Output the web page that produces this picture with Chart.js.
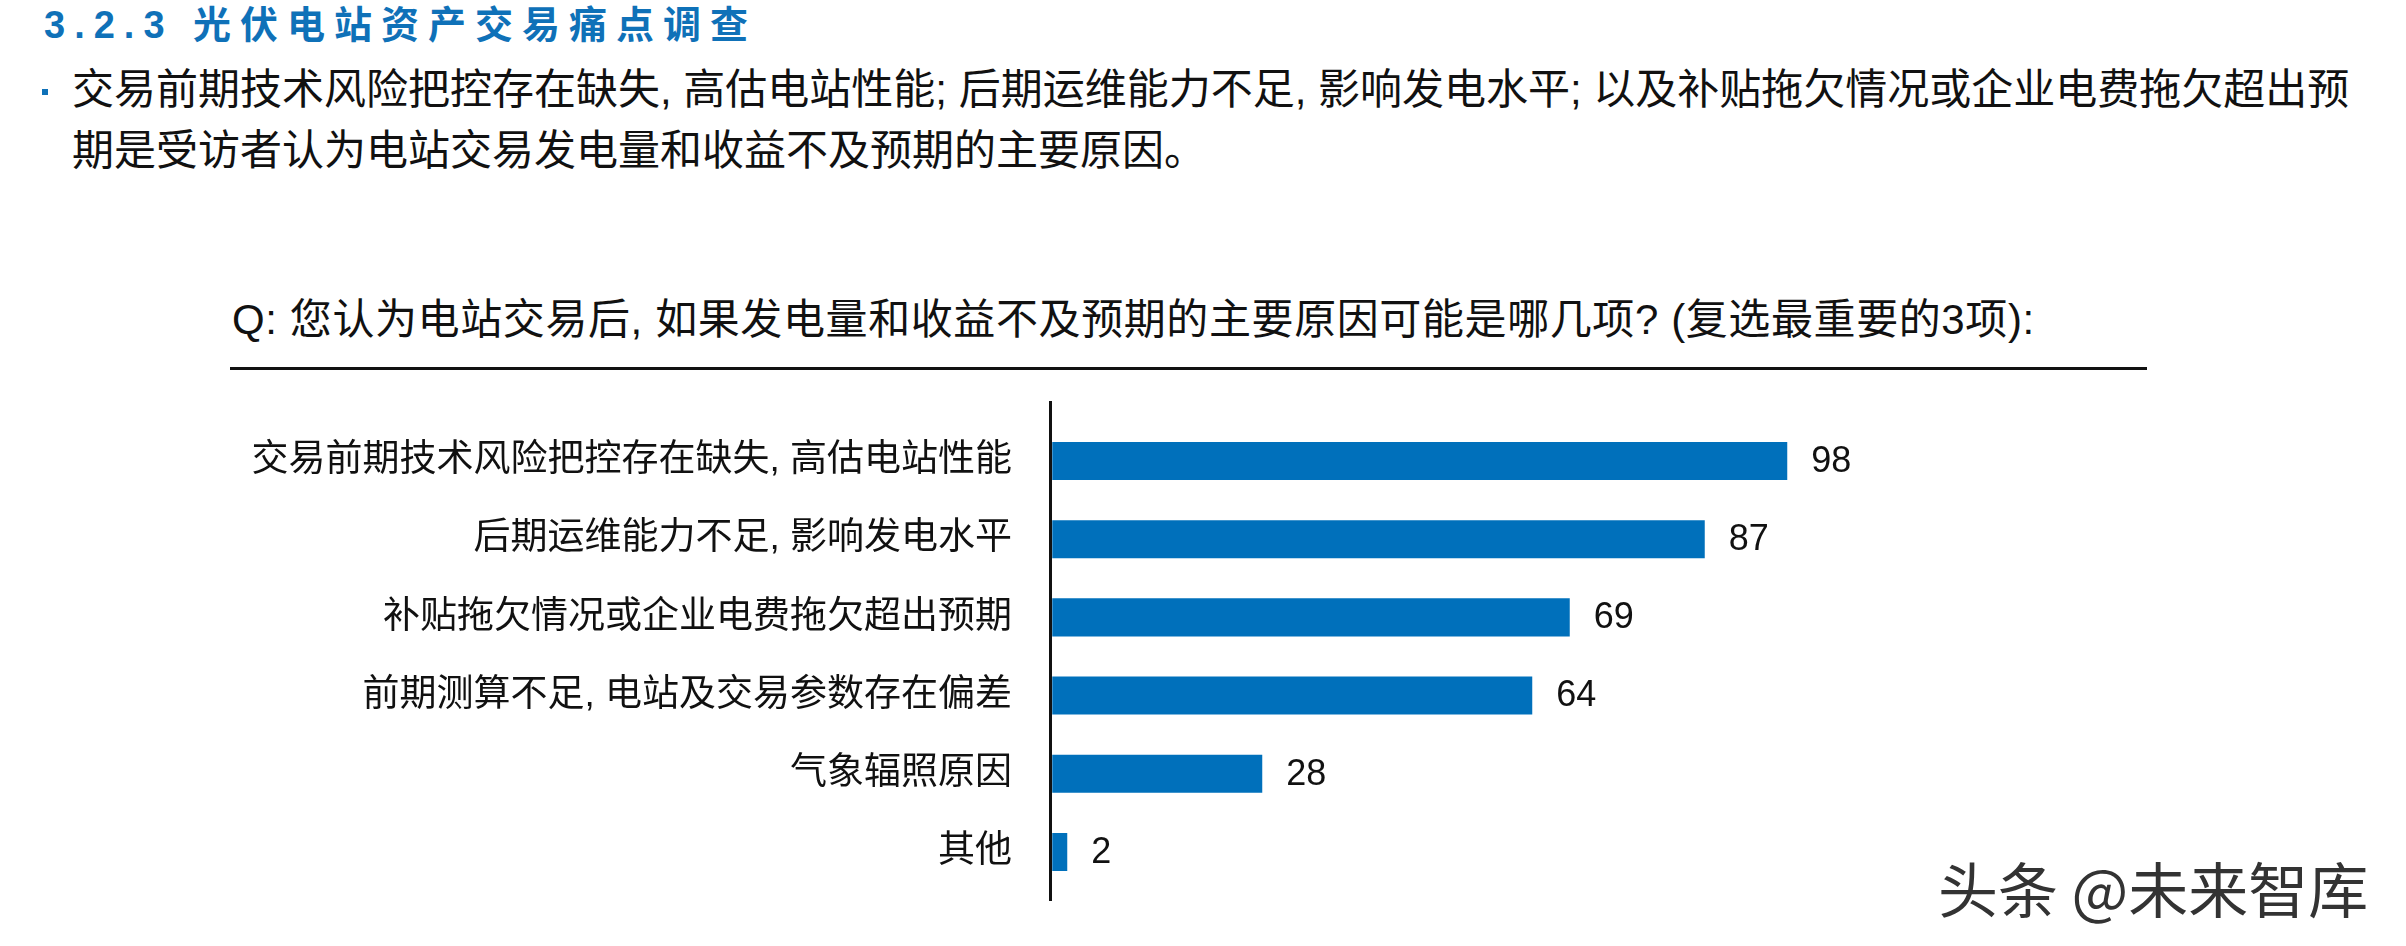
<!DOCTYPE html>
<html>
<head>
<meta charset="utf-8">
<script src="https://cdn.jsdelivr.net/npm/chart.js@4"></script>
<style>
  body { margin: 0; width: 2406px; height: 946px; background: #fff; position: relative; overflow: hidden;
         font-family: "Liberation Sans", "Noto Sans CJK SC", sans-serif; color: #111; }
  .abs { position: absolute; white-space: nowrap; line-height: 1; }
  #title { left: 44px; top: 6px; font-size: 38px; font-weight: bold; color: #0f71b8; letter-spacing: 9px; }
  #dot { left: 42px; top: 89px; width: 6px; height: 6px; background: #0f71b8; }
  .bullet { left: 72px; font-size: 42px; }
  #question { left: 232px; top: 299px; font-size: 42px; letter-spacing: 0.6px; }
  #rule { left: 230px; top: 367px; width: 1917px; height: 3px; background: #111; }
  #mark { left: 1938px; top: 857px; font-size: 60px; color: #333; font-family: "Noto Sans CJK SC", sans-serif; }
  #wrap { position: absolute; left: 0; top: 380px; width: 2406px; height: 560px; }
</style>
</head>
<body>
<div class="abs" id="title">3.2.3 光伏电站资产交易痛点调查</div>
<div class="abs" id="dot"></div>
<div class="abs bullet" style="top:69px">交易前期技术风险把控存在缺失, 高估电站性能; 后期运维能力不足, 影响发电水平; 以及补贴拖欠情况或企业电费拖欠超出预</div>
<div class="abs bullet" style="top:130px">期是受访者认为电站交易发电量和收益不及预期的主要原因。</div>
<div class="abs" id="question">Q: 您认为电站交易后, 如果发电量和收益不及预期的主要原因可能是哪几项? (复选最重要的3项):</div>
<div class="abs" id="rule"></div>
<div class="abs" id="mark">头条 @未来智库</div>
<div id="wrap"><canvas id="barChart"></canvas></div>

<script>
const categories = [
    '交易前期技术风险把控存在缺失, 高估电站性能',
    '后期运维能力不足, 影响发电水平',
    '补贴拖欠情况或企业电费拖欠超出预期',
    '前期测算不足, 电站及交易参数存在偏差',
    '气象辐照原因',
    '其他'
];
const values = [98, 87, 69, 64, 28, 2];

// number at the end of each bar
const valueLabels = {
    id: 'valueLabels',
    afterDatasetsDraw(chart) {
        const ctx = chart.ctx;
        const meta = chart.getDatasetMeta(0);
        ctx.save();
        ctx.font = '36px "Liberation Sans", Arial, sans-serif';
        ctx.fillStyle = '#111';
        ctx.textBaseline = 'middle';
        ctx.textAlign = 'left';
        meta.data.forEach((bar, i) => ctx.fillText(values[i], bar.x + 24, bar.y + 1));
        ctx.restore();
    }
};

const barChart = document.getElementById("barChart");

const barChartElement = new Chart(barChart,
    {
        type: 'bar',
        data: {
            datasets: [
                {
                    label: "受访者",
                    data: values.map((v, i) => ({ x: v, y: i })),
                    backgroundColor: "#0070bb",
                    borderWidth: 0,
                    categoryPercentage: 1,
                    barPercentage: 0.486
                }
            ]
        },
        options: {
            indexAxis: 'y',
            responsive: true,
            maintainAspectRatio: false,
            animation: false,
            layout: { padding: { top: 22, bottom: 40, left: 0, right: 378.75 } },
            plugins: { legend: { display: false }, tooltip: { enabled: false } },
            scales: {
                x: { type: 'linear', min: -0.3, max: 130, display: false },
                y: {
                    type: 'linear',
                    offset: false,
                    reverse: true,
                    min: -0.754,
                    max: 5.614,
                    afterBuildTicks: s => { s.ticks = categories.map((c, i) => ({ value: i })); },
                    afterFit: s => { s.width = 1050; s.paddingTop = 0; s.paddingBottom = 0; },
                    ticks: {
                        callback: v => categories[v],
                        autoSkip: false,
                        padding: 38,
                        color: '#111',
                        font: { size: 37, family: '"Liberation Sans", "Noto Sans CJK SC", sans-serif' }
                    },
                    grid: { display: false, drawTicks: false, offset: false },
                    border: { display: true, color: '#111', width: 3 }
                }
            }
        },
        plugins: [valueLabels]
    });
</script>
</body>
</html>
